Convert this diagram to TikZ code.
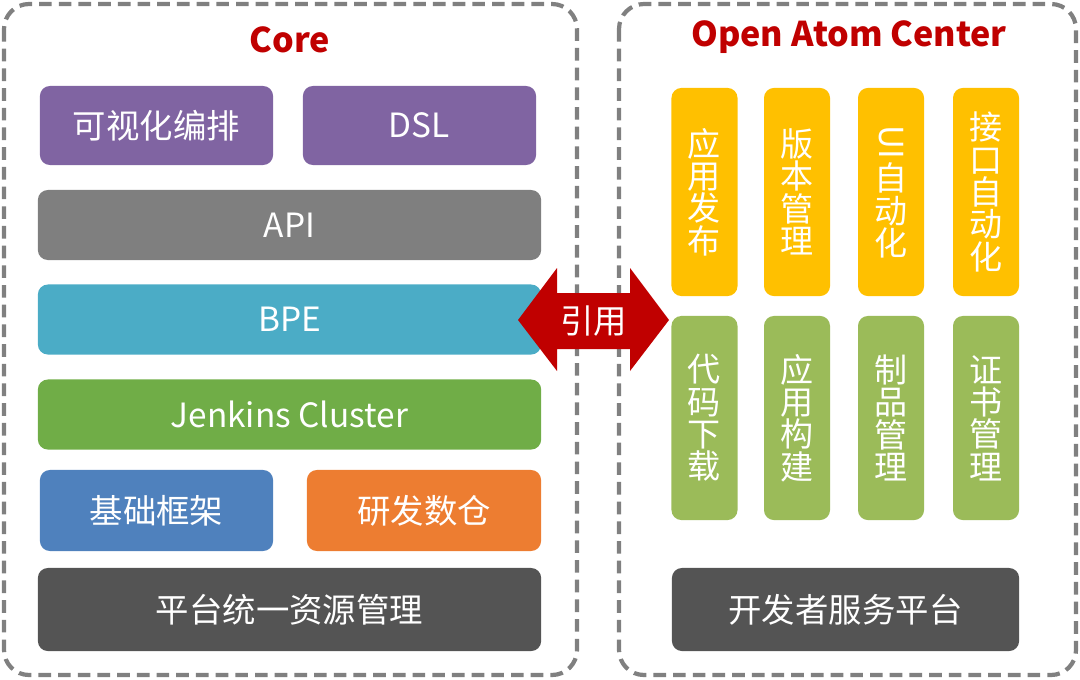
\documentclass[tikz,border=0pt]{standalone}
\usepackage{fontspec}
\setmainfont{Noto Sans CJK SC}

\begin{document}
\begin{tikzpicture}[x=0.01cm,y=-0.01cm]
  \definecolor{frame}{HTML}{808080}
  \definecolor{titlered}{HTML}{C00000}
  \definecolor{purple}{HTML}{8064A2}
  \definecolor{apigray}{HTML}{7F7F7F}
  \definecolor{bpeblue}{HTML}{4BACC6}
  \definecolor{jenkgreen}{HTML}{70AD47}
  \definecolor{baseblue}{HTML}{4F81BD}
  \definecolor{orange}{HTML}{ED7D31}
  \definecolor{dark}{HTML}{545454}
  \definecolor{amber}{HTML}{FFC000}
  \definecolor{olive}{HTML}{9BBB59}
  \path[use as bounding box] (0,0) rectangle (1080,679);

  % Two dashed frames, drawn first so the arrow can sit on top of them.
  \draw[frame,line width=1.2pt,dash pattern=on 3.6pt off 2pt,rounded corners=0.25cm] (4,4) rectangle (577,675);
  \draw[frame,line width=1.2pt,dash pattern=on 3.6pt off 2pt,rounded corners=0.25cm] (619,4) rectangle (1076,675);

  \tikzset{heading/.style={font=\bfseries\fontsize{9.7}{12}\selectfont,text=titlered,inner sep=1pt},
           block/.style={rounded corners=0.1cm,text=white,inner sep=0pt,font=\fontsize{9.5}{11}\selectfont},
           column/.style={block,align=center,minimum width=0.66cm,font=\fontsize{9.4}{9.2}\selectfont}}
  \node[heading] (core) at (290,40) {Core};
  \node[heading] (oac) at (849,37) {Open Atom Center};

  \node[block,fill=purple,minimum width=2.33cm,minimum height=0.79cm] (visual) at (156.5,125.5) {可视化编排};
  \node[block,fill=purple,minimum width=2.33cm,minimum height=0.79cm] (dsl) at (419.5,125.5) {DSL};
  \node[block,fill=apigray,minimum width=5.03cm,minimum height=0.7cm] (api) at (289.5,225) {API};
  \node[block,fill=bpeblue,minimum width=5.03cm,minimum height=0.7cm] (bpe) at (289.5,319.5) {BPE};
  \node[block,fill=jenkgreen,minimum width=5.03cm,minimum height=0.7cm] (jenkins) at (289.5,414.5) {Jenkins Cluster};
  \node[block,fill=baseblue,minimum width=2.33cm,minimum height=0.81cm] (base) at (156.5,510.5) {基础框架};
  \node[block,fill=orange,minimum width=2.34cm,minimum height=0.81cm] (warehouse) at (424,510.5) {研发数仓};
  \node[block,fill=dark,minimum width=5.03cm,minimum height=0.83cm] (resource) at (289.5,609.5) {平台统一资源管理};

  \node[column,fill=amber,minimum height=2.08cm] (deploy) at (704.5,192) {应\\用\\发\\布};
  \node[column,fill=amber,minimum height=2.08cm] (version) at (797,192) {版\\本\\管\\理};
  \node[column,fill=amber,minimum height=2.08cm] (uitest) at (891,192) {\rotatebox[origin=c]{-90}{UI}\\自\\动\\化};
  \node[column,fill=amber,minimum height=2.08cm] (apitest) at (986,192) {接\\口\\自\\动\\化};
  \node[column,fill=olive,minimum height=2.04cm] (checkout) at (704.5,418) {代\\码\\下\\载};
  \node[column,fill=olive,minimum height=2.04cm] (build) at (797,418) {应\\用\\构\\建};
  \node[column,fill=olive,minimum height=2.04cm] (artifact) at (891,418) {制\\品\\管\\理};
  \node[column,fill=olive,minimum height=2.04cm] (cert) at (986,418) {证\\书\\管\\理};
  \node[block,fill=dark,minimum width=3.47cm,minimum height=0.83cm] (devplat) at (845.5,609.5) {开发者服务平台};

  % Double arrow between the two halves.
  \fill[titlered] (518,320) -- (557,268) -- (557,293) -- (630,293) -- (630,268) -- (669,320)
    -- (630,371) -- (630,349) -- (557,349) -- (557,371) -- cycle;
  \node[block] (ref) at (593.5,321) {引用};
\end{tikzpicture}
\end{document}
